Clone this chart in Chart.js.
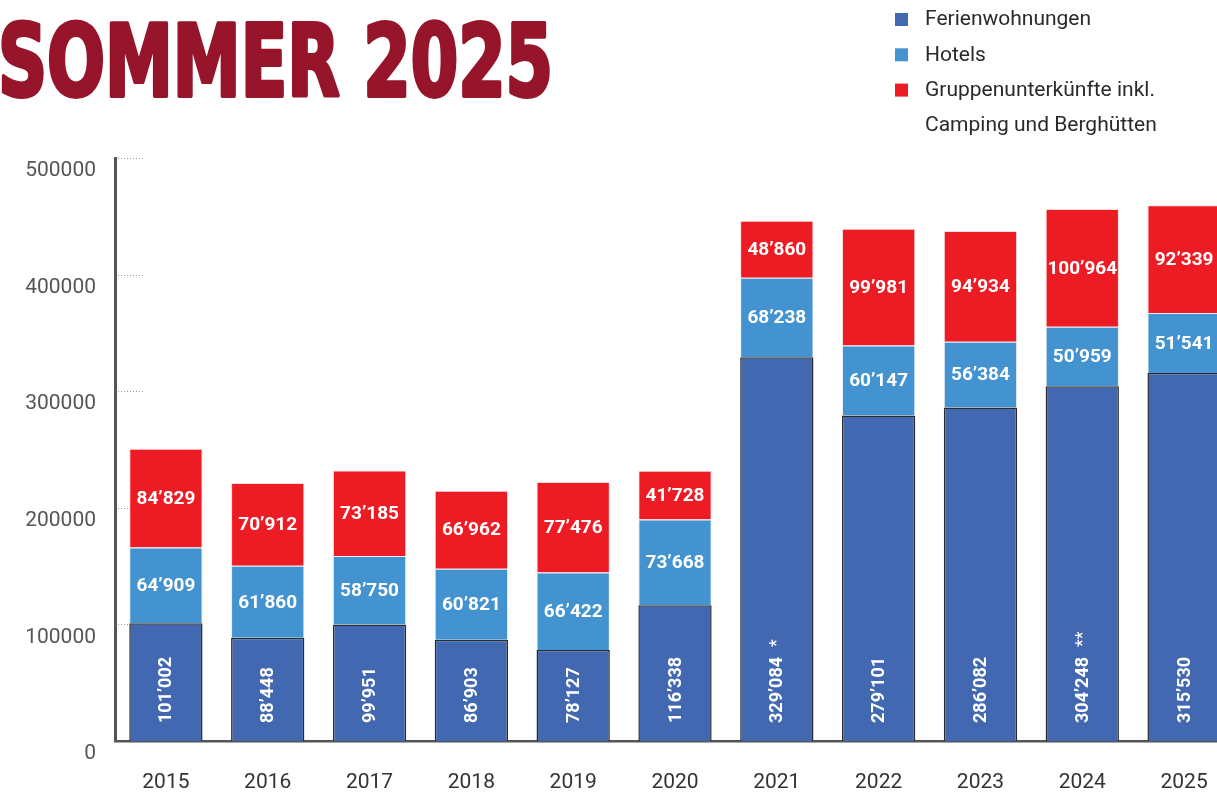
<!DOCTYPE html>
<html>
<head>
<meta charset="utf-8">
<script src="https://cdn.jsdelivr.net/npm/chart.js@4.4.1/dist/chart.umd.min.js"></script>
<style>
  html, body { margin: 0; padding: 0; background: #fff; overflow: hidden; width: 1217px; height: 796px; }
  #wrap { position: absolute; left: 0; top: 0; width: 1240px; height: 796px; }
</style>
</head>
<body>
<div id="wrap"><canvas id="c"></canvas></div>
<script>
const years = ['2015', '2016', '2017', '2018', '2019', '2020', '2021', '2022', '2023', '2024', '2025'];
const ferienwohnungen = [101002, 88448, 99951, 86903, 78127, 116338, 329084, 279101, 286082, 304248, 315530];
const hotels = [64909, 61860, 58750, 60821, 66422, 73668, 68238, 60147, 56384, 50959, 51541];
const gruppen = [84829, 70912, 73185, 66962, 77476, 41728, 48860, 99981, 94934, 100964, 92339];
const notes = ['', '', '', '', '', '', '*', '', '', '**', ''];
const yTicks = [0, 100000, 200000, 300000, 400000, 500000];
const seriesNames = ['Ferienwohnungen', 'Hotels', ['Gruppenunterkünfte inkl.', 'Camping und Berghütten']];
const titleText = 'SOMMER 2025';

const fmt = n => String(n).replace(/\B(?=(\d{3})+(?!\d))/g, '\u2019');

const C_DARK = '#4168B1', C_HOTEL = '#4393D0', C_RED = '#ED1C24', C_TITLE = '#96152B';

const decor = {
  id: 'decor',
  beforeDatasetsDraw(chart) {
    const ctx = chart.ctx, y = chart.scales.y;
    ctx.save();
    ctx.strokeStyle = '#9a9a9a';
    ctx.lineWidth = 1;
    ctx.setLineDash([1, 2]);
    yTicks.forEach(v => {
      if (v === 0) return;
      const py = Math.round(y.getPixelForValue(v)) + 0.5;
      ctx.beginPath();
      ctx.moveTo(118, py);
      ctx.lineTo(143, py);
      ctx.stroke();
    });
    ctx.restore();
  },
  afterDatasetsDraw(chart) {
    const ctx = chart.ctx;
    ctx.save();
    ctx.fillStyle = '#ffffff';
    const m0 = chart.getDatasetMeta(0);
    ctx.font = 'bold 18px Roboto';
    m0.data.forEach((bar, i) => {
      ctx.save();
      ctx.translate(bar.x, bar.base - 18);
      ctx.rotate(-Math.PI / 2);
      ctx.textAlign = 'left';
      ctx.textBaseline = 'middle';
      const t = fmt(chart.data.datasets[0].data[i]);
      ctx.fillText(t, 0, 1);
      if (notes[i]) {
        const w = ctx.measureText(t).width;
        ctx.font = '18px Roboto';
        ctx.fillText(notes[i], w + 10, 1);
        ctx.font = 'bold 18px Roboto';
      }
      ctx.restore();
    });
    ctx.font = 'bold 19px Roboto';
    [1, 2].forEach(di => {
      const m = chart.getDatasetMeta(di);
      m.data.forEach((bar, i) => {
        ctx.textAlign = 'center';
        ctx.textBaseline = 'middle';
        ctx.fillText(fmt(chart.data.datasets[di].data[i]), bar.x, (bar.y + bar.base) / 2 + 1);
      });
    });
    ctx.restore();
  },
  afterDraw(chart) {
    const ctx = chart.ctx;
    ctx.save();
    ctx.font = 'bold 100px "DejaVu Sans Condensed", "DejaVu Sans"';
    const w = ctx.measureText(titleText).width;
    ctx.translate(-2, 96);
    ctx.scale(555 / w, 0.99);
    ctx.fillStyle = C_TITLE;
    ctx.strokeStyle = C_TITLE;
    ctx.lineWidth = 4;
    ctx.lineJoin = 'round';
    ctx.textBaseline = 'alphabetic';
    ctx.textAlign = 'left';
    ctx.fillText(titleText, 0, 0);
    ctx.strokeText(titleText, 0, 0);
    ctx.restore();
    ctx.save();
    ctx.font = '21px Roboto';
    ctx.textBaseline = 'middle';
    ctx.textAlign = 'left';
    let yy = 20;
    chart.data.datasets.forEach(ds => {
      ctx.fillStyle = ds.backgroundColor;
      ctx.fillRect(895, yy - 7, 13, 13);
      ctx.fillStyle = '#2a2a2a';
      const lines = Array.isArray(ds.label) ? ds.label : [ds.label];
      lines.forEach(l => {
        ctx.fillText(l, 925, yy);
        yy += 35.3;
      });
    });
    ctx.restore();
  }
};

new Chart(document.getElementById('c'), {
  type: 'bar',
  data: {
    labels: years,
    datasets: [
      { label: seriesNames[0], data: ferienwohnungen, backgroundColor: C_DARK, borderColor: '#2b2b2b', borderWidth: 1.5 },
      { label: seriesNames[1], data: hotels, backgroundColor: C_HOTEL, borderColor: '#e8eef6', borderWidth: 1 },
      { label: seriesNames[2], data: gruppen, backgroundColor: C_RED, borderColor: '#f7dede', borderWidth: 1 }
    ]
  },
  options: {
    responsive: true,
    maintainAspectRatio: false,
    animation: false,
    layout: { padding: { top: 158, left: 0, right: 5, bottom: 0 } },
    plugins: { legend: { display: false }, tooltip: { enabled: false } },
    datasets: { bar: { barPercentage: 0.72, categoryPercentage: 1 } },
    scales: {
      x: {
        stacked: true,
        grid: { display: false, drawTicks: false },
        border: { display: true, color: '#555', width: 2.5 },
        ticks: { color: '#333', font: { family: 'Roboto', size: 21 }, padding: 29, maxRotation: 0 },
        afterFit(s) { s.height = 55; }
      },
      y: {
        stacked: true,
        min: 0, max: 500000,
        grid: { display: false, drawTicks: false },
        border: { display: true, color: '#555', width: 3 },
        ticks: {
          stepSize: 100000,
          color: '#555',
          font: { family: 'Roboto', size: 21 },
          padding: 19,
          labelOffset: 13,
          callback: v => String(v)
        },
        afterFit(s) { s.width = 115; }
      }
    }
  },
  plugins: [decor]
});
</script>
</body>
</html>
